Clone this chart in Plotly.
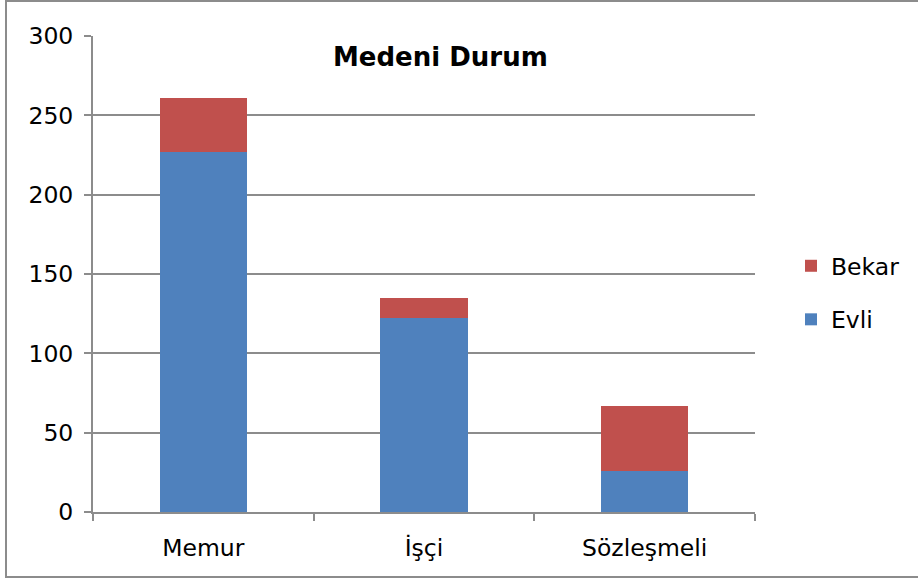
import plotly.graph_objects as go

categories = ["Memur", "İşçi", "Sözleşmeli"]
evli = [227, 122, 26]
bekar = [34, 13, 41]
y_ticks = [0, 50, 100, 150, 200, 250, 300]

W, H = 918, 581
L, R, T, B = 93, 755, 36, 512

fig = go.Figure()
fig.add_trace(go.Bar(x=categories, y=evli, name="Evli",
                     marker=dict(color="#4f81bd", line=dict(width=0)),
                     legendgroup="a", legendrank=2))
fig.add_trace(go.Bar(x=categories, y=bekar, name="Bekar",
                     marker=dict(color="#c0504d", line=dict(width=0)),
                     legendgroup="b", legendrank=1))

font = "DejaVu Sans, sans-serif"
fig.update_layout(
    width=W, height=H,
    margin=dict(l=L, r=W - R, t=T, b=H - B, pad=0, autoexpand=False),
    barmode="stack", bargap=0.605,
    plot_bgcolor="white", paper_bgcolor="white",
    font=dict(family=font, size=23.5, color="#000"),
    showlegend=True,
    legend=dict(x=(791 - L) / (R - L), y=(512 - 244) / (B - T), xanchor="left", yanchor="top",
                traceorder="grouped", tracegroupgap=20,
                font=dict(size=23.5), itemwidth=30, bgcolor="rgba(0,0,0,0)"),
    xaxis=dict(showline=True, linecolor="#8c8c8c", linewidth=2,
               ticks="outside", tickson="boundaries", ticklen=7, tickwidth=2, tickcolor="#8c8c8c",
               ticklabelstandoff=14, showgrid=False, range=[-0.5, 2.5]),
    yaxis=dict(range=[0, 300], tickvals=y_ticks, showline=True, linecolor="#8c8c8c", linewidth=2,
               ticks="outside", ticklen=7, tickwidth=2, tickcolor="#8c8c8c",
               showgrid=True, gridcolor="#8c8c8c", gridwidth=2, zeroline=False,
               ticklabelstandoff=6),
    annotations=[dict(text="<b>Medeni Durum</b>", xref="paper", yref="paper",
                      x=(440 - L) / (R - L), y=(512 - 57) / (B - T),
                      xanchor="center", yanchor="middle", showarrow=False,
                      font=dict(size=26, family=font, color="#000"))],
    shapes=[dict(type="rect", xref="paper", yref="paper",
                 x0=(6 - L) / (R - L), x1=(930 - L) / (R - L),
                 y0=(B - 577) / (B - T), y1=(B - 1) / (B - T),
                 line=dict(color="#8c8c8c", width=2), layer="below")],
)

fig.write_html("out.html", config={"displayModeBar": False},
               post_script="document.body.style.margin='0';")
